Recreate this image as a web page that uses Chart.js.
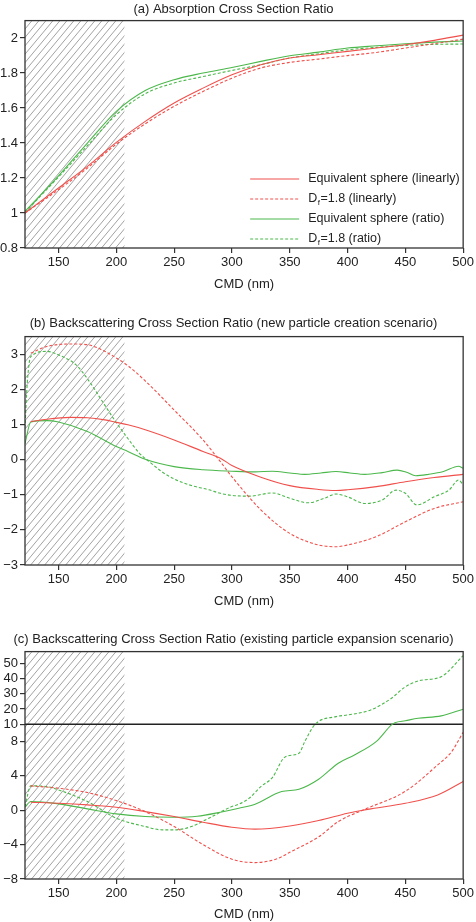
<!DOCTYPE html>
<html><head><meta charset="utf-8">
<script src="https://cdn.jsdelivr.net/npm/chart.js@4.4.1/dist/chart.umd.min.js"></script>
<style>
html,body{margin:0;padding:0;background:#fff;}
#wrap{position:relative;width:476px;height:922px;overflow:hidden;}
.pn{position:absolute;left:0;width:476px;}
</style></head><body>
<div id="wrap">
<div class="pn" style="top:0;height:292px"><canvas id="cA"></canvas></div>
<div class="pn" style="top:310px;height:299px"><canvas id="cB"></canvas></div>
<div class="pn" style="top:625px;height:297px"><canvas id="cC"></canvas></div>
</div>
<script>
// ---------- data ----------
const TITLE_A = '(a) Absorption Cross Section Ratio';
const TITLE_B = '(b) Backscattering Cross Section Ratio (new particle creation scenario)';
const TITLE_C = '(c) Backscattering Cross Section Ratio (existing particle expansion scenario)';
const X_TITLE = 'CMD (nm)';
const LABELS = ['Equivalent sphere (linearly)', 'D_f=1.8 (linearly)', 'Equivalent sphere (ratio)', 'D_f=1.8 (ratio)'];
const X_TICKS = [150, 200, 250, 300, 350, 400, 450, 500];
const Y_TICKS_A = [0.8, 1, 1.2, 1.4, 1.6, 1.8, 2];
const Y_TICKS_B = [-3, -2, -1, 0, 1, 2, 3];
const Y_TICKS_C = [-8, -4, 0, 4, 8, 10, 20, 30, 40, 50];
const HATCH_RANGE = [121, 207];

// panel (a)
const aX = [121, 150, 175, 200, 225, 250, 275, 300, 325, 350, 375, 400, 425, 450, 475, 500];
const aEqLin  = [1.0, 1.143, 1.267, 1.404, 1.524, 1.629, 1.714, 1.790, 1.848, 1.886, 1.905, 1.924, 1.943, 1.962, 1.987, 2.017];
const aDfLin  = [1.0, 1.133, 1.257, 1.394, 1.510, 1.610, 1.695, 1.771, 1.829, 1.861, 1.880, 1.900, 1.918, 1.943, 1.968, 1.994];
const aEqRat  = [1.01, 1.213, 1.400, 1.581, 1.700, 1.762, 1.800, 1.832, 1.867, 1.899, 1.920, 1.943, 1.956, 1.968, 1.977, 1.983];
const aDfRat  = [1.004, 1.206, 1.385, 1.562, 1.682, 1.743, 1.780, 1.815, 1.848, 1.886, 1.910, 1.933, 1.947, 1.958, 1.964, 1.966];

// panel (b)
const bRedX   = [126, 140, 160, 175, 190, 200, 210, 225, 250, 275, 290, 300, 325, 350, 375, 390, 400, 425, 450, 475, 500];
const bEqLin  = [1.08, 1.15, 1.20, 1.19, 1.13, 1.06, 0.99, 0.85, 0.56, 0.23, 0.04, -0.17, -0.50, -0.74, -0.85, -0.88, -0.86, -0.77, -0.63, -0.51, -0.42];
const bDfLin  = [3.03, 3.22, 3.29, 3.27, 3.08, 2.89, 2.67, 2.24, 1.41, 0.56, -0.06, -0.49, -1.43, -2.10, -2.43, -2.48, -2.43, -2.19, -1.77, -1.39, -1.20];
const bEqRatX = [121, 126, 140, 150, 175, 200, 210, 225, 250, 275, 300, 320, 335, 350, 363, 377, 390, 402, 415, 430, 443, 451, 459, 470, 483, 496, 500];
const bEqRat  = [0.45, 1.07, 1.11, 1.07, 0.80, 0.37, 0.23, 0.01, -0.20, -0.29, -0.33, -0.35, -0.33, -0.38, -0.42, -0.38, -0.34, -0.38, -0.42, -0.37, -0.30, -0.36, -0.46, -0.42, -0.34, -0.19, -0.25];
const bDfRatX = [121, 123, 126, 140, 150, 165, 175, 190, 200, 210, 220, 230, 240, 250, 265, 280, 290, 300, 315, 335, 350, 366, 380, 390, 400, 415, 430, 442, 450, 460, 475, 488, 496, 500];
const bDfRat  = [0.9, 2.2, 2.93, 3.08, 2.98, 2.70, 2.30, 1.55, 1.05, 0.60, 0.18, -0.10, -0.36, -0.55, -0.74, -0.86, -0.96, -1.02, -1.04, -0.95, -1.10, -1.23, -1.10, -0.98, -1.06, -1.25, -1.15, -0.87, -0.96, -1.29, -1.06, -0.86, -0.58, -0.72];

// panel (c)
const cEqLinX = [126, 150, 175, 200, 225, 250, 275, 300, 320, 350, 375, 400, 413, 425, 450, 478, 500];
const cEqLin  = [0.93, 0.81, 0.62, 0.35, -0.16, -0.74, -1.40, -1.98, -2.20, -1.83, -1.20, -0.35, 0.0, 0.25, 0.81, 1.78, 3.33];
const cDfLinX = [126, 150, 175, 200, 225, 250, 275, 300, 320, 340, 350, 375, 392, 413, 450, 478, 490, 500];
const cDfLin  = [2.83, 2.56, 2.05, 1.12, -0.16, -1.90, -4.00, -5.70, -6.09, -5.60, -4.90, -3.10, -1.32, 0.0, 2.20, 5.27, 6.80, 9.07];
const cEqRatX = [121, 126, 150, 175, 200, 225, 250, 270, 290, 306, 320, 343, 358, 375, 392, 406, 425, 438, 441, 450, 461, 481, 500];
const cEqRat  = [0.35, 1.01, 0.74, 0.16, -0.43, -0.74, -0.81, -0.70, -0.23, 0.23, 0.70, 2.17, 2.44, 3.60, 5.47, 6.43, 8.00, 9.92, 11.0, 12.3, 13.9, 15.5, 19.9];
const cDfRatX = [121, 126, 140, 150, 175, 200, 225, 240, 250, 265, 280, 300, 306, 315, 325, 335, 346, 358, 363, 372, 390, 400, 420, 438, 449, 461, 481, 500];
const cDfRat  = [0.43, 2.83, 2.75, 2.36, 1.01, -0.93, -1.90, -2.29, -2.29, -1.90, -0.93, 0.43, 0.70, 1.40, 2.75, 3.80, 6.20, 6.63, 7.98, 10.0, 15.0, 16.1, 19.4, 27.1, 34.1, 38.5, 41.3, 55.1];
const C_BREAK = 10;
const cBreakLineX = [121, 500];

// ---------- styling ----------
const FONT = '"Liberation Sans", Arial, sans-serif';
const FS = 13;
const RED = '#f0504c';
const GREEN = '#4cb84c';
const DASH = [3, 2];
const INK = '#222';
Chart.defaults.font.family = FONT;
Chart.defaults.font.size = FS;
Chart.defaults.color = INK;

// broken linear scale for panel (c): compress values above the break
const UPPER_RATIO = 0.1767;
class BrokenScale extends Chart.LinearScale {
  _t(v) { return v <= C_BREAK ? v : C_BREAK + (v - C_BREAK) * UPPER_RATIO; }
  _ti(t) { return t <= C_BREAK ? t : C_BREAK + (t - C_BREAK) / UPPER_RATIO; }
  getPixelForValue(value) {
    const t0 = this._t(this.min), t1 = this._t(this.max);
    return this.getPixelForDecimal((this._t(value) - t0) / (t1 - t0));
  }
  getValueForPixel(pixel) {
    const t0 = this._t(this.min), t1 = this._t(this.max);
    return this._ti(t0 + this.getDecimalForPixel(pixel) * (t1 - t0));
  }
}
BrokenScale.id = 'broken';
BrokenScale.defaults = Chart.LinearScale.defaults;
Chart.register(BrokenScale);

function pts(xs, ys) { return xs.map((x, i) => ({x, y: ys[i]})); }
function fmt(v) {
  const s = String(Number(v.toFixed(2)));
  return v < 0 ? '\u2212' + s.slice(1) : s;
}

const hatchPlugin = {
  id: 'hatch',
  beforeDatasetsDraw(chart) {
    const {ctx, chartArea: a, scales} = chart;
    const x0 = Math.max(a.left, scales.x.getPixelForValue(HATCH_RANGE[0]));
    const x1 = scales.x.getPixelForValue(HATCH_RANGE[1]);
    const top = a.top, h = a.bottom - top;
    ctx.save();
    ctx.beginPath(); ctx.rect(x0, top, x1 - x0, h); ctx.clip();
    ctx.strokeStyle = '#8a8a8a'; ctx.lineWidth = 0.8;
    ctx.beginPath();
    const dx = h / 1.2;
    for (let s = x0 - dx; s < x1 + 2; s += 7) { ctx.moveTo(s, a.bottom); ctx.lineTo(s + dx, top); }
    ctx.stroke();
    ctx.restore();
  }
};
const framePlugin = {
  id: 'frame',
  afterDatasetsDraw(chart) {
    const {ctx, chartArea: a} = chart;
    ctx.save(); ctx.strokeStyle = '#333'; ctx.lineWidth = 1.3;
    ctx.strokeRect(a.left, a.top, a.right - a.left, a.bottom - a.top);
    ctx.restore();
  }
};
const LEG_FS = 12.5;
function drawSubText(ctx, text, x, y) {
  const parts = text.split(/_(.)/);
  let cx = x;
  parts.forEach((p, i) => {
    if (i % 2 === 1) {
      ctx.font = '8px ' + FONT;
      ctx.fillText(p, cx + 0.5, y + 4);
      cx += ctx.measureText(p).width + 1;
      ctx.font = LEG_FS + 'px ' + FONT;
    } else {
      ctx.fillText(p, cx, y);
      cx += ctx.measureText(p).width;
    }
  });
}
const legendPlugin = {
  id: 'cornerLegend',
  afterDatasetsDraw(chart) {
    const {ctx, chartArea: a} = chart;
    const ds = chart.data.datasets;
    ctx.save();
    ds.forEach((d, i) => {
      const y = a.bottom - 69 + i * 20;
      ctx.strokeStyle = d.borderColor; ctx.lineWidth = 1.1;
      ctx.setLineDash(d.borderDash || []);
      ctx.beginPath(); ctx.moveTo(a.right - 213, y); ctx.lineTo(a.right - 164, y); ctx.stroke();
      ctx.setLineDash([]);
      ctx.fillStyle = INK; ctx.font = LEG_FS + 'px ' + FONT; ctx.textBaseline = 'middle'; ctx.textAlign = 'left';
      drawSubText(ctx, d.label, a.right - 155, y);
    });
    ctx.restore();
  }
};

function series(label, data, color, dashed) {
  return {label, data, borderColor: color, borderWidth: 1.1, borderDash: dashed ? DASH : [],
          pointRadius: 0, cubicInterpolationMode: 'monotone', fill: false};
}

function makeChart(id, title, titlePad, datasets, yCfg, xHeight, plugins) {
  return new Chart(document.getElementById(id), {
    type: 'line',
    data: {datasets},
    options: {
      animation: false, responsive: true, maintainAspectRatio: false,
      layout: {padding: {left: 0, right: 9, top: 0, bottom: 0}},
      plugins: {
        legend: {display: false}, tooltip: {enabled: false},
        title: {display: true, text: title, font: {size: FS, weight: 'normal'}, color: INK, padding: titlePad}
      },
      scales: {
        x: {
          type: 'linear', min: 121, max: 500,
          afterBuildTicks: s => { s.ticks = X_TICKS.map(v => ({value: v})); },
          afterFit: s => { s.height = xHeight; },
          grid: {drawOnChartArea: false, drawTicks: true, tickLength: 5, color: '#333', lineWidth: 1.2},
          border: {display: false},
          ticks: {padding: 2, color: INK, font: {size: FS}, maxRotation: 0, callback: v => String(v)},
          title: {display: true, text: X_TITLE, color: INK, font: {size: FS}, padding: {top: 3, bottom: 0}}
        },
        y: Object.assign({
          afterFit: s => { s.width = 25; },
          grid: {drawOnChartArea: false, drawTicks: true, tickLength: 5, color: '#333', lineWidth: 1.2},
          border: {display: false},
          ticks: {padding: 2, color: INK, font: {size: FS}, callback: v => fmt(v)}
        }, yCfg)
      }
    },
    plugins
  });
}

makeChart('cA', TITLE_A, {top: 2, bottom: 3}, [
  series(LABELS[0], pts(aX, aEqLin), RED, false),
  series(LABELS[1], pts(aX, aDfLin), RED, true),
  series(LABELS[2], pts(aX, aEqRat), GREEN, false),
  series(LABELS[3], pts(aX, aDfRat), GREEN, true)
], {type: 'linear', min: 0.8, max: 2.1, afterBuildTicks: s => { s.ticks = Y_TICKS_A.map(v => ({value: v})); }},
  44, [hatchPlugin, framePlugin, legendPlugin]);

makeChart('cB', TITLE_B, {top: 6, bottom: 5}, [
  series(LABELS[0], pts(bRedX, bEqLin), RED, false),
  series(LABELS[1], pts(bRedX, bDfLin), RED, true),
  series(LABELS[2], pts(bEqRatX, bEqRat), GREEN, false),
  series(LABELS[3], pts(bDfRatX, bDfRat), GREEN, true)
], {type: 'linear', min: -3, max: 3.5, afterBuildTicks: s => { s.ticks = Y_TICKS_B.map(v => ({value: v})); }},
  44, [hatchPlugin, framePlugin]);

const breakLine = {label: '', data: pts(cBreakLineX, cBreakLineX.map(() => C_BREAK)), borderColor: INK,
  borderWidth: 1.3, pointRadius: 0, tension: 0, fill: false};
makeChart('cC', TITLE_C, {top: 7, bottom: 4}, [
  series(LABELS[0], pts(cEqLinX, cEqLin), RED, false),
  series(LABELS[1], pts(cDfLinX, cDfLin), RED, true),
  series(LABELS[2], pts(cEqRatX, cEqRat), GREEN, false),
  series(LABELS[3], pts(cDfRatX, cDfRat), GREEN, true),
  breakLine
], {type: 'broken', min: -8, max: 57.8, afterBuildTicks: s => { s.ticks = Y_TICKS_C.map(v => ({value: v})); }},
  43, [hatchPlugin, framePlugin]);
</script>
</body></html>
